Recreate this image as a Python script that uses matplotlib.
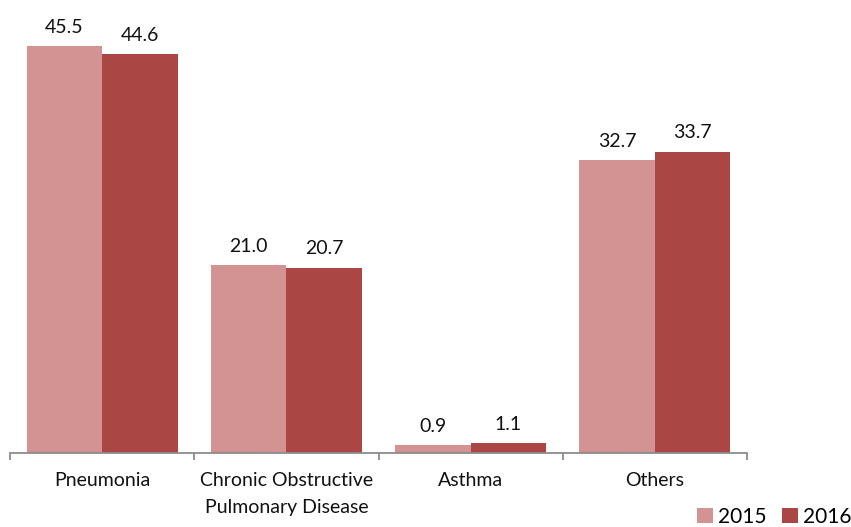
import matplotlib
matplotlib.use("Agg")
import matplotlib.pyplot as plt
import numpy as np

categories = ["Pneumonia", "Chronic Obstructive\nPulmonary Disease", "Asthma", "Others"]
values_2015 = [45.5, 21.0, 0.9, 32.7]
values_2016 = [44.6, 20.7, 1.1, 33.7]
series_labels = ["2015", "2016"]

color_2015 = "#D39392"
color_2016 = "#AA4745"
axis_gray = "#8C8C8C"

plt.rcParams["font.family"] = ["Lato", "DejaVu Sans"]
FS = 14

W, H = 851, 527
fig = plt.figure(figsize=(W / 100, H / 100), dpi=100)

# axes box in pixel terms: x from 10 to 747, baseline at y=453
x0, x1 = 10, 747
y_base = 453
ymax = 50.0
px_per_unit = 8.945
y_top = y_base - ymax * px_per_unit
ax = fig.add_axes([x0 / W, (H - y_base) / H, (x1 - x0) / W, (y_base - y_top) / H])

x = np.arange(len(categories))
bw = 0.41
b1 = ax.bar(x - bw / 2, values_2015, bw, color=color_2015, label=series_labels[0])
b2 = ax.bar(x + bw / 2, values_2016, bw, color=color_2016, label=series_labels[1])

for bars, vals in ((b1, values_2015), (b2, values_2016)):
    for rect, v in zip(bars, vals):
        ax.annotate(f"{v:.1f}", (rect.get_x() + rect.get_width() / 2, v),
                    xytext=(0, 7.5), textcoords="offset points",
                    ha="center", va="bottom", fontsize=FS, color="#111111")

ax.set_xlim(-0.5, len(categories) - 0.5)
ax.set_ylim(0, ymax)

for s in ("top", "right", "left"):
    ax.spines[s].set_visible(False)
ax.spines["bottom"].set_color(axis_gray)
ax.spines["bottom"].set_linewidth(1.3)
ax.set_yticks([])

ax.set_xticks(x)
ax.set_xticklabels(categories, fontsize=FS, color="#111111", linespacing=1.68, va="top")
ax.tick_params(axis="x", which="major", length=0, pad=14)
ax.set_xticks(np.arange(len(categories) + 1) - 0.5, minor=True)
ax.tick_params(axis="x", which="minor", length=5, width=1.3, color=axis_gray, direction="out")

fig.legend(handles=[b1, b2], labels=series_labels, ncol=2, frameon=False,
           loc="upper left", bbox_to_anchor=(697 / W, (H - 507) / H),
           fontsize=FS + 1, handlelength=0.75, handleheight=0.75,
           handletextpad=0.25, columnspacing=0.75, borderpad=0.0, borderaxespad=0.0)

fig.savefig("out.png", dpi=100)
